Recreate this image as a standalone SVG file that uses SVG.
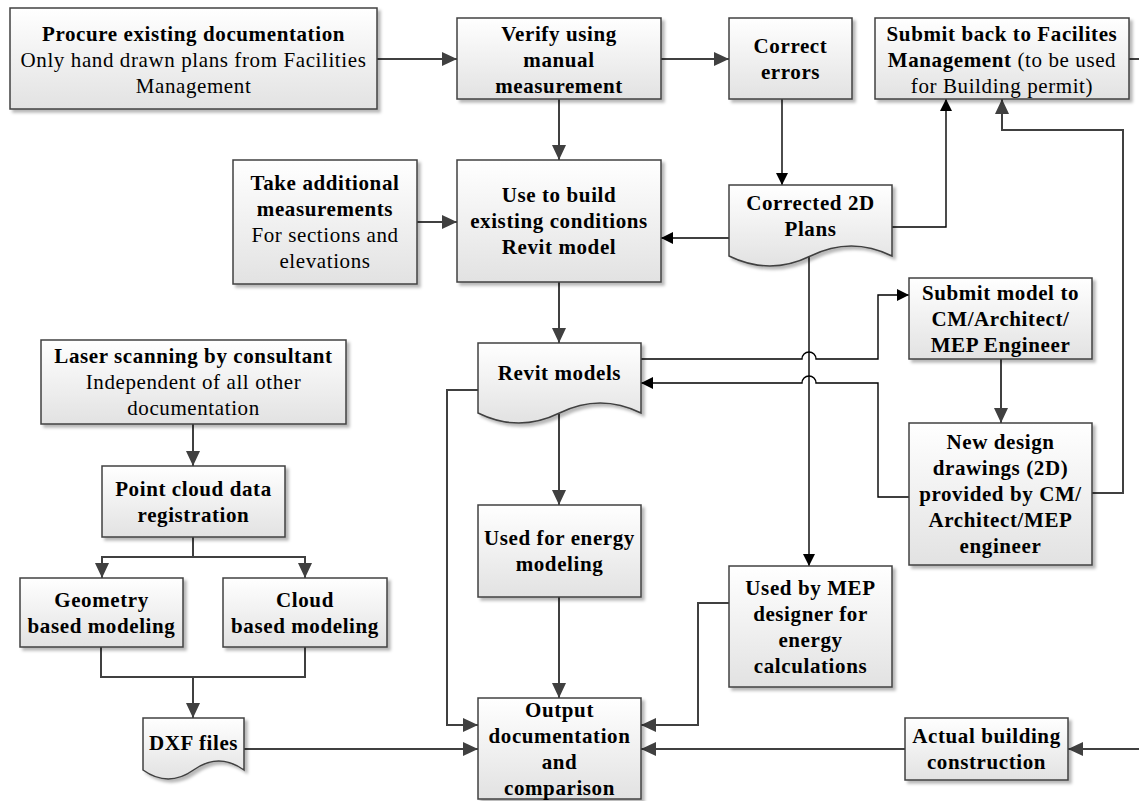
<svg xmlns="http://www.w3.org/2000/svg" width="1139" height="801" viewBox="0 0 1139 801">
<defs>
<linearGradient id="g" x1="0" y1="0" x2="0" y2="1">
<stop offset="0" stop-color="#ffffff"/>
<stop offset="1" stop-color="#e2e2e2"/>
</linearGradient>
<filter id="sh" x="-10%" y="-10%" width="130%" height="140%">
<feDropShadow dx="3" dy="3" stdDeviation="1.5" flood-color="#000" flood-opacity="0.28"/>
</filter>
<marker id="ag" markerUnits="userSpaceOnUse" markerWidth="16" markerHeight="14" refX="15" refY="7" orient="auto">
<path d="M0,0 L15,7 L0,14 z" fill="#404040"/>
</marker>
<marker id="ak" markerUnits="userSpaceOnUse" markerWidth="13" markerHeight="12" refX="12" refY="6" orient="auto">
<path d="M0,0 L12,6 L0,12 z" fill="#000"/>
</marker>
<style>
.b{fill:url(#g);stroke:#404040;stroke-width:1.5;filter:url(#sh)}
text{font-family:"Liberation Serif","Times New Roman",serif;font-size:21px;letter-spacing:0.6px;fill:#000;text-anchor:middle}
.t{font-weight:bold}
.c{fill:none;stroke:#404040;stroke-width:2}
.ca{fill:none;stroke:#404040;stroke-width:2;marker-end:url(#ag)}
.k{fill:none;stroke:#000;stroke-width:1.4;marker-end:url(#ak)}
</style>
</defs>
<rect width="1139" height="801" fill="#fff"/>

<g id="connectors">
<path class="ca" d="M377,59 H457"/>
<path class="ca" d="M661,59 H729"/>
<path class="ca" d="M559,99 V160"/>
<path class="ca" d="M417,222 H457"/>
<path class="ca" d="M559,282 V343"/>
<path class="ca" d="M559,414 V505"/>
<path class="ca" d="M559,597 V698"/>
<path class="ca" d="M478,390 H447 V725 H478"/>
<path class="ca" d="M244,749 H478"/>
<path class="ca" d="M729,603 H698 V725 H641"/>
<path class="ca" d="M905,749 H641"/>
<path class="ca" d="M1139,749 H1068"/>
<path class="c" d="M1129,59 H1139"/>
<path class="ca" d="M1001,359 V423"/>
<path class="ca" d="M1092,493 H1123 V130 H1002 V99"/>
<path class="ca" d="M193,424 V466"/>
<path class="ca" d="M193,537 V557 H102 V578"/>
<path class="ca" d="M193,557 H305 V578"/>
<path class="ca" d="M101,647 V677 H193 V718"/>
<path class="c" d="M305,647 V677 H193"/>
<path class="k" d="M782,99 V185"/>
<path class="k" d="M729,238 H661"/>
<path class="k" d="M892,227 H946 V99"/>
<path class="k" d="M809,256 V566"/>
<path class="k" d="M641,359 H802 A7,7 0 0 1 816,359 H878 V295 H909"/>
<path class="k" d="M909,497 H878 V383 H816 A7,7 0 0 0 802,383 H641"/>
</g>

<g id="procure">
<rect class="b" x="10" y="8" width="367" height="101"/>
<text x="193.5" y="40.5" class="t">Procure existing documentation</text>
<text x="193.5" y="66.5">Only hand drawn plans from Facilities</text>
<text x="193.5" y="92.5">Management</text>
</g>

<g id="verify">
<rect class="b" x="457" y="18" width="204" height="81"/>
<text x="559" y="40.5" class="t">Verify using</text>
<text x="559" y="66.5" class="t">manual</text>
<text x="559" y="92.5" class="t">measurement</text>
</g>

<g id="correct">
<rect class="b" x="729" y="18" width="123" height="81"/>
<text x="790.5" y="52.5" class="t">Correct</text>
<text x="790.5" y="78.5" class="t">errors</text>
</g>

<g id="submitback">
<rect class="b" x="875" y="18" width="254" height="81"/>
<text x="1002" y="40.5" class="t">Submit back to Facilites</text>
<text x="1002" y="66.5"><tspan class="t">Management</tspan> (to be used</text>
<text x="1002" y="92.5">for Building permit)</text>
</g>

<g id="take">
<rect class="b" x="233" y="160" width="184" height="124"/>
<text x="325" y="190" class="t">Take additional</text>
<text x="325" y="216" class="t">measurements</text>
<text x="325" y="242">For sections and</text>
<text x="325" y="268">elevations</text>
</g>

<g id="usebuild">
<rect class="b" x="457" y="160" width="204" height="122"/>
<text x="559" y="202" class="t">Use to build</text>
<text x="559" y="228" class="t">existing conditions</text>
<text x="559" y="254" class="t">Revit model</text>
</g>

<g id="corrected">
<path class="b" d="M729,185 H892 V256 Q851.25,236 810.5,256 T729,256 Z"/>
<text x="810.5" y="210" class="t">Corrected 2D</text>
<text x="810.5" y="236" class="t">Plans</text>
</g>

<g id="revit">
<path class="b" d="M478,343 H641 V413 Q600.25,393 559.5,413 T478,413 Z"/>
<text x="559.5" y="380" class="t">Revit models</text>
</g>

<g id="submitmodel">
<rect class="b" x="909" y="278" width="183" height="81"/>
<text x="1000.5" y="299.5" class="t">Submit model to</text>
<text x="1000.5" y="325.5" class="t">CM/Architect/</text>
<text x="1000.5" y="351.5" class="t">MEP Engineer</text>
</g>

<g id="newdesign">
<rect class="b" x="909" y="423" width="183" height="142"/>
<text x="1000.5" y="449" class="t">New design</text>
<text x="1000.5" y="475" class="t">drawings (2D)</text>
<text x="1000.5" y="501" class="t">provided by CM/</text>
<text x="1000.5" y="527" class="t">Architect/MEP</text>
<text x="1000.5" y="553" class="t">engineer</text>
</g>

<g id="laser">
<rect class="b" x="41" y="340" width="305" height="84"/>
<text x="193.5" y="363" class="t">Laser scanning by consultant</text>
<text x="193.5" y="389">Independent of all other</text>
<text x="193.5" y="415">documentation</text>
</g>

<g id="pointcloud">
<rect class="b" x="102" y="466" width="183" height="71"/>
<text x="193.5" y="495.5" class="t">Point cloud data</text>
<text x="193.5" y="521.5" class="t">registration</text>
</g>

<g id="geometry">
<rect class="b" x="20" y="578" width="163" height="69"/>
<text x="101.5" y="606.5" class="t">Geometry</text>
<text x="101.5" y="632.5" class="t">based modeling</text>
</g>

<g id="cloud">
<rect class="b" x="223" y="578" width="164" height="69"/>
<text x="305" y="606.5" class="t">Cloud</text>
<text x="305" y="632.5" class="t">based modeling</text>
</g>

<g id="dxf">
<path class="b" d="M143,718 H244 V770 Q218.75,752 193.5,770 T143,770 Z"/>
<text x="193.5" y="750" class="t">DXF files</text>
</g>

<g id="energy">
<rect class="b" x="478" y="505" width="163" height="92"/>
<text x="559.5" y="545" class="t">Used for energy</text>
<text x="559.5" y="571" class="t">modeling</text>
</g>

<g id="mep">
<rect class="b" x="729" y="566" width="163" height="121"/>
<text x="810.5" y="594.5" class="t">Used by MEP</text>
<text x="810.5" y="620.5" class="t">designer for</text>
<text x="810.5" y="646.5" class="t">energy</text>
<text x="810.5" y="672.5" class="t">calculations</text>
</g>

<g id="output">
<rect class="b" x="478" y="698" width="163" height="101"/>
<text x="559.5" y="716.5" class="t">Output</text>
<text x="559.5" y="742.5" class="t">documentation</text>
<text x="559.5" y="768.5" class="t">and</text>
<text x="559.5" y="794.5" class="t">comparison</text>
</g>

<g id="actual">
<rect class="b" x="905" y="718" width="163" height="62"/>
<text x="986.5" y="743" class="t">Actual building</text>
<text x="986.5" y="769" class="t">construction</text>
</g>
</svg>
